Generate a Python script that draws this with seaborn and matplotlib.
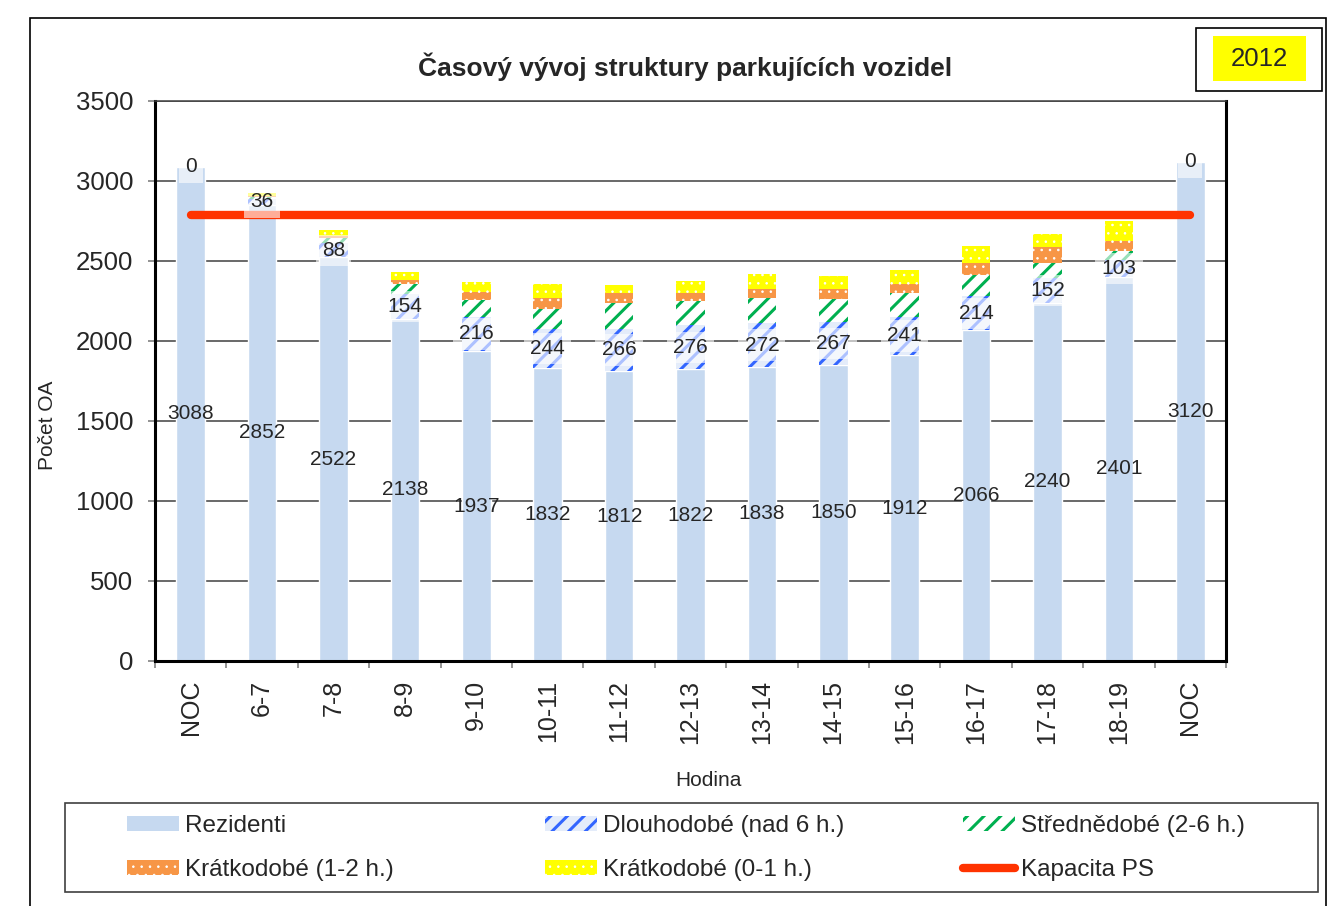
import numpy as np
import seaborn as sns
import matplotlib.pyplot as plt
from matplotlib.patches import Rectangle, Patch
from matplotlib.lines import Line2D

# values
hodiny = ['NOC', '6-7', '7-8', '8-9', '9-10', '10-11', '11-12', '12-13',
          '13-14', '14-15', '15-16', '16-17', '17-18', '18-19', 'NOC']
rezidenti = [3088, 2852, 2522, 2138, 1937, 1832, 1812, 1822, 1838, 1850, 1912, 2066, 2240, 2401, 3120]
dlouhodobe = [0, 36, 88, 154, 216, 244, 266, 276, 272, 267, 241, 214, 152, 103, 0]
strednedobe = [0, 12, 35, 62, 104, 125, 157, 154, 157, 144, 146, 135, 94, 58, 0]
kratkodobe_12 = [0, 8, 10, 27, 52, 70, 62, 50, 58, 62, 56, 73, 100, 65, 0]
kratkodobe_01 = [0, 17, 38, 52, 62, 83, 56, 73, 94, 85, 90, 104, 83, 125, 0]
kapacita = [2790] * 15

sns.set_theme(style='white')
plt.rcParams['font.family'] = ['Liberation Sans', 'DejaVu Sans']
plt.rcParams['hatch.linewidth'] = 2.2

fig = plt.figure(figsize=(13.36, 9.06), dpi=100)
ax = fig.add_axes([155 / 1336, 1 - 661 / 906, 1071 / 1336, 560 / 906])

x = np.arange(len(hodiny))
sns.barplot(x=x, y=rezidenti, color='#C6D9F0', saturation=1, width=0.4,
            errorbar=None, ax=ax, zorder=2)

# stacked segments on top of residents: name, values, face, hatch colour, hatch, hatch width
layers = [
    ('Dlouhodobé (nad 6 h.)', dlouhodobe, '#E4ECFA', '#3366FF', '//', 2.2),
    ('Střednědobé (2-6 h.)', strednedobe, 'white', '#00B050', '//', 2.2),
    ('Krátkodobé (1-2 h.)', kratkodobe_12, '#F79646', 'white', '..', 0.6),
    ('Krátkodobé (0-1 h.)', kratkodobe_01, '#FFFF00', 'white', '..', 0.6),
]


def set_hatch_width(patch, w):
    if hasattr(patch, 'set_hatch_linewidth'):
        patch.set_hatch_linewidth(w)


bottom = np.array(rezidenti, dtype=float)
for name, vals, face, hcol, hatch, hw in layers:
    bars = ax.bar(x, vals, 0.4, bottom=bottom, color=face, edgecolor=hcol,
                  hatch=hatch, linewidth=0, zorder=2)
    for b in bars:
        set_hatch_width(b, hw)
    bottom += np.array(vals)

ax.plot(x, kapacita, color='#FF3300', lw=6, solid_capstyle='round', zorder=4)

for i in x:
    ax.text(i, rezidenti[i] / 2, str(rezidenti[i]), ha='center', va='center',
            fontsize=15, zorder=5)
    ax.text(i, rezidenti[i] + dlouhodobe[i] / 2, str(dlouhodobe[i]),
            ha='center', va='center', fontsize=15, zorder=5,
            bbox=dict(boxstyle='square,pad=0.3', fc='white', ec='none', alpha=0.6))

ax.set_xlim(-0.5, 14.5)
ax.set_ylim(0, 3500)
ax.set_yticks(np.arange(0, 3501, 500))
ax.set_xticks(x)
ax.set_xticklabels(hodiny, rotation=90)
ax.set_xticks(np.arange(-0.5, 15, 1), minor=True)
ax.tick_params(axis='x', which='major', bottom=True, length=0, pad=13.5, labelsize=18)
ax.tick_params(axis='x', which='minor', bottom=True, length=5, width=1.2,
               color='#808080', direction='out')
ax.tick_params(axis='y', left=True, length=5, width=1.2, color='#808080',
               direction='out', labelsize=18.5, pad=10.5)
ax.yaxis.grid(True, color='#404040', lw=1.1)
ax.set_axisbelow(True)
for side in ['left', 'bottom', 'right']:
    ax.spines[side].set_color('black')
    ax.spines[side].set_linewidth(2.2)
ax.spines['top'].set_color('#404040')
ax.spines['top'].set_linewidth(1.1)

ax.set_xlabel('Hodina', fontsize=15)
ax.xaxis.set_label_coords(0.517, -0.2125)
ax.xaxis.label.set_verticalalignment('center')
ax.set_ylabel('Počet OA', fontsize=15)
ax.yaxis.set_label_coords(-0.1008, 0.421)
ax.yaxis.label.set_verticalalignment('center')

ax.set_title('Časový vývoj struktury parkujících vozidel', fontsize=19,
             fontweight='bold', x=0.4953, y=1.0458, va='center')

# outer frame, year badge and legend box
fig.patches.append(Rectangle((30 / 1336, -0.05), 1296 / 1336, 1 - 18 / 906 + 0.05,
                             transform=fig.transFigure, fill=False, ec='black', lw=1.2))
fig.patches.append(Rectangle((1196 / 1336, 1 - 91 / 906), 126 / 1336, 63 / 906,
                             transform=fig.transFigure, fill=False, ec='black', lw=1.2))
fig.patches.append(Rectangle((1213 / 1336, 1 - 81 / 906), 93 / 1336, 45 / 906,
                             transform=fig.transFigure, fc='#FFFF00', ec='none'))
fig.text(1259.5 / 1336, 1 - 58.5 / 906, '2012', fontsize=18.5, ha='center', va='center')
fig.patches.append(Rectangle((65 / 1336, 1 - 892 / 906), 1253 / 1336, 89 / 906,
                             transform=fig.transFigure, fill=False, ec='#404040', lw=1.2))

handles = [Patch(facecolor='#C6D9F0', lw=0)]
for name, vals, face, hcol, hatch, hw in layers:
    handles.append(Patch(facecolor=face, edgecolor=hcol, hatch=hatch, lw=0))
handles.append(Line2D([], [], color='#FF3300', lw=6, solid_capstyle='round'))
names = ['Rezidenti'] + [l[0] for l in layers] + ['Kapacita PS']
hatch_widths = [0] + [l[5] for l in layers] + [0]

columns = [(0, 3), (1, 4), (2, 5)]
col_x = [127, 545, 963]
for (a, b), cx in zip(columns, col_x):
    leg = fig.legend([handles[a], handles[b]], [names[a], names[b]],
                     loc='upper left', bbox_to_anchor=(cx / 1336, 1 - 815 / 906),
                     frameon=False, fontsize=17.5, handlelength=2.15,
                     handleheight=0.55, handletextpad=0.25, labelspacing=0.9,
                     borderpad=0, borderaxespad=0)
    for h, k in zip(leg.legend_handles, (a, b)):
        if isinstance(h, Patch) and hatch_widths[k]:
            set_hatch_width(h, hatch_widths[k])

plt.savefig('out.png', dpi=100)
plt.close('all')
